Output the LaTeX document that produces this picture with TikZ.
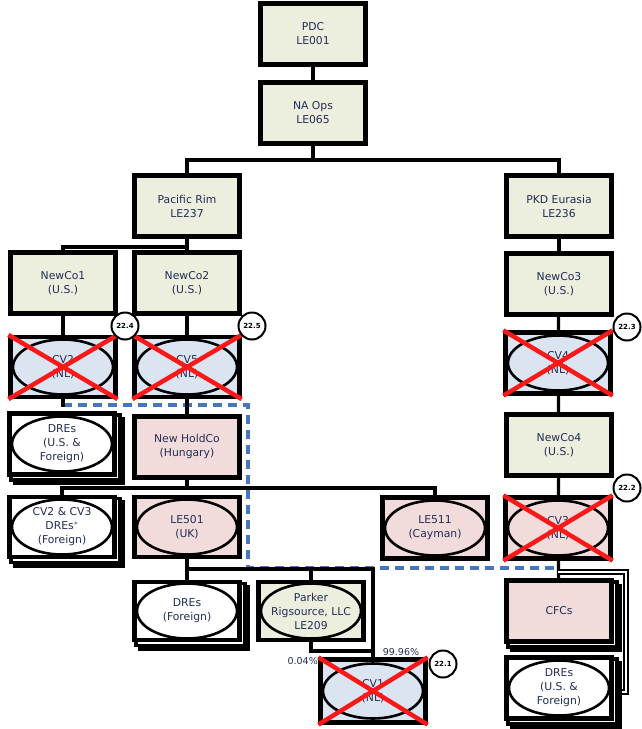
\documentclass[tikz,border=0pt]{standalone}
\usepackage{fontspec}
\setmainfont{DejaVu Sans}
\definecolor{boxgreen}{RGB}{236,238,222}
\definecolor{boxpink}{RGB}{242,220,219}
\definecolor{boxblue}{RGB}{219,228,241}
\definecolor{txt}{RGB}{35,45,85}
\definecolor{dashblue}{RGB}{72,118,190}
\definecolor{crossred}{RGB}{250,25,25}
\pgfdeclarelayer{bg}
\pgfdeclarelayer{mid}
\pgfsetlayers{bg,mid,main}

\begin{document}
\begin{tikzpicture}[x=1pt,y=-1pt,
  ent/.style={draw, line width=4.2pt, minimum width=105pt, minimum height=61pt,
    inner sep=0pt, align=center, text=txt, font=\fontsize{10.8}{14}\selectfont},
  gbox/.style={ent, fill=boxgreen},
  pbox/.style={ent, fill=boxpink},
  bbox/.style={ent, fill=boxblue},
  wbox/.style={ent, fill=white},
  oval/.style={path picture={\draw[line width=2.6pt]
      (path picture bounding box.center) ellipse [x radius=50pt, y radius=27.5pt];}},
  link/.style={line width=3.2pt, line cap=rect},
  dashlink/.style={line width=3.2pt, dashblue, dash pattern=on 9pt off 6pt},
  dbl/.style={double, double distance=2.2pt, line width=2.2pt},
  layer/.style={draw, line width=3.4pt, fill=white},
  cross/.style={line width=4.5pt, crossred},
  badge/.style={circle, draw, line width=2pt, fill=white, minimum size=27pt,
    inner sep=0pt, font=\fontsize{7}{8}\selectfont\bfseries},
  pct/.style={inner sep=0pt, text=txt, font=\fontsize{9.5}{10}\selectfont}
]
\useasboundingbox (0,0) rectangle (641,729);

% entities
\node[gbox] (pdc)    at (313,34)  {PDC\\LE001};
\node[gbox] (naops)  at (313,113) {NA Ops\\LE065};
\node[gbox] (pacrim) at (187,206) {Pacific Rim\\LE237};
\node[gbox] (pkd)    at (559,206) {PKD Eurasia\\LE236};
\node[gbox] (newco1) at (63,283)  {NewCo1\\(U.S.)};
\node[gbox] (newco2) at (187,283) {NewCo2\\(U.S.)};
\node[gbox] (newco3) at (559,284) {NewCo3\\(U.S.)};
\node[bbox,oval,minimum height=60pt] (cv2) at (63,367)  {CV2\\(NL)};
\node[bbox,oval,minimum height=60pt] (cv5) at (187,367) {CV5\\(NL)};
\node[bbox,oval] (cv4)    at (558,363) {CV4\\(NL)};
\node[gbox]      (newco4) at (559,445) {NewCo4\\(U.S.)};
\node[pbox,oval] (cv3)    at (558,528) {CV3\\(NL)};
\node[wbox,oval] (dreus)  at (62,444)  {DREs\\(U.S. \&\\Foreign)};
\node[pbox]      (holdco) at (187,447) {New HoldCo\\(Hungary)};
\node[wbox,oval,minimum height=60pt] (cv23)  at (62,527)  {CV2 \& CV3\\DREs$^{*}$\\(Foreign)};
\node[pbox,oval,minimum height=60pt] (le501) at (187,527) {LE501\\(UK)};
\node[pbox,oval] (le511)  at (435,528) {LE511\\(Cayman)};
\node[wbox,oval,minimum height=58pt] (dref)   at (187,611) {DREs\\(Foreign)};
\node[gbox,oval,minimum height=58pt] (parker) at (311,611) {Parker\\Rigsource, LLC\\LE209};
\node[bbox,oval,minimum height=63pt] (cv1)    at (373,691) {CV1\\(NL)};
\node[pbox]      (cfcs)   at (559,611) {CFCs};
\node[wbox,oval] (dreus2) at (559,688) {DREs\\(U.S. \&\\Foreign)};

% bus levels and free ends
\coordinate (b1) at (0,160);
\coordinate (b2) at (0,247);
\coordinate (b4) at (0,488);
\coordinate (b5) at (0,569);
\coordinate (b6) at (0,651);
\coordinate (d0) at (63,405);
\coordinate (d1) at (248,405);
\coordinate (d2) at (248,568);
\coordinate (d3) at (558,568);
\coordinate (r1) at (626,572);
\coordinate (r2) at (626,692);

% stacked copies behind multi-entity boxes
\begin{pgfonlayer}{mid}
\foreach \n in {dreus,cv23,dref,cfcs,dreus2}{
  \draw[layer] ([shift={(7,7)}]\n.north west) rectangle ([shift={(7,7)}]\n.south east);
  \draw[layer] ([shift={(3.5,3.5)}]\n.north west) rectangle ([shift={(3.5,3.5)}]\n.south east);
}
\end{pgfonlayer}

% connectors
\begin{pgfonlayer}{bg}
\draw[dashlink] (d0) -- (d1) -- (d2) -- (d3);
\draw[link] (pdc) -- (naops);
\draw[link] (naops.south) -- (b1 -| naops.south);
\draw[link] (pacrim.north) |- (b1 -| pkd.north) -- (pkd.north);
\draw[link] (pacrim.south) -- (b2 -| pacrim.south);
\draw[link] (newco1.north) |- (b2 -| newco2.north) -- (newco2.north);
\draw[link] (newco1) -- (cv2);
\draw[link] (newco2) -- (cv5);
\draw[link] (pkd) -- (newco3);
\draw[link] (newco3) -- (cv4);
\draw[link] (cv4) -- (newco4);
\draw[link] (newco4) -- (cv3);
\draw[link] (cv2.south) -- (d0);
\draw[link] (cv5) -- (holdco);
\draw[link] (holdco.south) -- (b4 -| holdco.south);
\draw[link] (cv23.north) |- (b4 -| le511.north) -- (le511.north);
\draw[link] (le501.south) -- (b5 -| le501.south);
\draw[link] (dref.north) |- (b5 -| cv1.north) -- (cv1.north);
\draw[link] (parker.north) -- (b5 -| parker.north);
\draw[link] (parker.south) |- (b6 -| cv1.north);
\draw[link] (cv3) -- (cfcs);
\draw[dbl] (r1 -| cv3.south) -- (r1) -- (r2) -- (r2 -| dreus2.east);
\end{pgfonlayer}

% struck-out entities
\foreach \n in {cv2,cv5,cv4,cv3,cv1}{
  \draw[cross] (\n.north west) -- (\n.south east);
  \draw[cross] (\n.north east) -- (\n.south west);
}

% step markers
\node[badge] (c224) at (125,326) {22.4};
\node[badge] (c225) at (252,326) {22.5};
\node[badge] (c223) at (627,327) {22.3};
\node[badge] (c222) at (627,488) {22.2};
\node[badge] (c221) at (443,664) {22.1};

% ownership percentages
\node[pct, anchor=east] (p1) at (318,661) {0.04\%};
\node[pct] (p2) at (401,652) {99.96\%};
\end{tikzpicture}
\end{document}
